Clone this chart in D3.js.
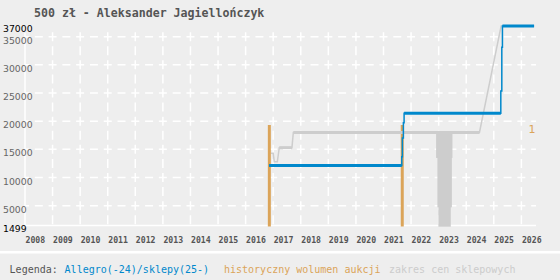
<!DOCTYPE html>
<html>
<head>
<meta charset="utf-8">
<script src="https://cdn.jsdelivr.net/npm/d3@7"></script>
<style>
  body { margin: 0; background: #eeeeee; }
  svg { display: block; }
</style>
</head>
<body>
<div id="container"></div>
<script>
//Width and height
let w = 560;
let h = 280;

// Chart data (time as decimal year)
let title = "500 zł - Aleksander Jagiellończyk";
let yearTicks = [2008, 2009, 2010, 2011, 2012, 2013, 2014, 2015, 2016, 2017,
                 2018, 2019, 2020, 2021, 2022, 2023, 2024, 2025, 2026];
let priceTicks = [37000, 35000, 30000, 25000, 20000, 15000, 10000, 5000, 1499];
let gridTicks = [35000, 30000, 25000, 20000, 15000, 10000, 5000];

// Allegro/sklepy price steps
let allegroDates  = [2016.85, 2021.663, 2021.685, 2021.721, 2021.747, 2025.254, 2025.29, 2025.313, 2026.46];
let allegroPrices = [12150,   13700,    17000,    19730,    21400,    25360,    33100,   36900,    36900];

// shop price range line
let shopDates  = [2016.92, 2017.0, 2017.04, 2017.15, 2017.22, 2017.68, 2017.73, 2024.48, 2025.27];
let shopPrices = [14300,   14300,  12800,   12800,   15300,   15300,   18000,   18000,   37000];

// shop price range band (start, end, low, high)
let bandStart = [2022.907, 2022.955, 2022.99];
let bandEnd   = [2023.50,  2023.48,  2023.44];
let bandLow   = [13700,    4940,     1499];
let bandHigh  = [18000,    13700,    4940];

// auction volume
let volumeDates  = [2016.86, 2021.68];
let volumeCounts = [1, 1];
let volumeMax = 1;

let blue = "#0088cc";
let orange = "#dba459";
let grey = "#cdcdcd";

//Scales
let x = d3.scaleLinear().domain([2008, 2026.53]).range([25, 536]);
let y = d3.scaleLinear().domain([1499, 37000]).range([225.4, 25.4]);
let vol = d3.scaleLinear().domain([0, volumeMax]).range([226.5, 125]);

//Create SVG
let svg = d3.select("#container")
      .append("svg")
      .attr("width", w)
      .attr("height", h)
      .style("background", "#eeeeee");

// Title
svg.append("text")
  .attr("x", 34)
  .attr("y", 17)
  .style("font-family", "DejaVu Sans Mono")
  .style("font-weight", "bold")
  .style("font-size", "11.6px")
  .style("fill", "#555")
  .text(title);

// Grid lines, dashes centred on crossings
let halfYear = (x(2009) - x(2008)) / 2;
let halfStep = (y(5000) - y(10000)) / 2;

svg.append("g").selectAll("line")
  .data(gridTicks)
  .enter()
  .append("line")
    .attr("x1", x(2008))
    .attr("x2", x.range()[1])
    .attr("y1", function(d) { return y(d); })
    .attr("y2", function(d) { return y(d); })
    .style("stroke", "#fff")
    .style("stroke-width", 1.5)
    .style("stroke-dasharray", "8," + (halfYear - 8))
    .style("stroke-dashoffset", 4);

svg.append("g").selectAll("line")
  .data(yearTicks.slice(1))
  .enter()
  .append("line")
    .attr("x1", function(d) { return x(d); })
    .attr("x2", function(d) { return x(d); })
    .attr("y1", y(35000) - 4.5)
    .attr("y2", 228)
    .style("stroke", "#fff")
    .style("stroke-width", 1.5)
    .style("stroke-dasharray", "9," + (halfStep - 9));

// Solid axis lines
svg.append("line")
  .attr("x1", x(2008)).attr("x2", x(2008))
  .attr("y1", y(35000) - 4).attr("y2", y(1499))
  .style("stroke", "#fff").style("stroke-width", 1.5);
svg.append("line")
  .attr("x1", x(2008)).attr("x2", x.range()[1])
  .attr("y1", y(1499)).attr("y2", y(1499))
  .style("stroke", "#fff").style("stroke-width", 1.5);

// Year axis
let xAxis = svg.append("g")
  .attr("transform", "translate(0,228)")
  .call(d3.axisBottom(x).tickValues(yearTicks).tickFormat(d3.format("d")).tickSize(0).tickPadding(9));
xAxis.select(".domain").remove();
xAxis.selectAll("text")
  .attr("text-anchor", "start")
  .style("font-family", "DejaVu Sans Mono")
  .style("font-weight", "bold")
  .style("font-size", "8.2px")
  .style("fill", "#555");

// Price axis
let yAxis = svg.append("g")
  .call(d3.axisLeft(y).tickValues(priceTicks).tickFormat(d3.format("d")).tickSize(0));
yAxis.select(".domain").remove();
yAxis.selectAll("text")
  .attr("x", 3)
  .attr("dy", 6.5)
  .attr("text-anchor", "start")
  .style("font-family", "DejaVu Sans")
  .style("font-size", "9.3px")
  .style("fill", function(d) { return (d == 37000 || d == 1499) ? "#000" : "#666"; });

// Shop price band
svg.append("g").selectAll("rect")
  .data(bandStart)
  .enter()
  .append("rect")
    .attr("x", function(d) { return x(d); })
    .attr("width", function(d, i) { return x(bandEnd[i]) - x(d); })
    .attr("y", function(d, i) { return y(bandHigh[i]); })
    .attr("height", function(d, i) { return y(bandLow[i]) - y(bandHigh[i]) + 1.3; })
    .style("fill", grey);

// Auction volume bars
svg.append("g").selectAll("rect")
  .data(volumeDates)
  .enter()
  .append("rect")
    .attr("x", function(d) { return x(d) - 1.5; })
    .attr("width", 3)
    .attr("y", function(d, i) { return vol(volumeCounts[i]); })
    .attr("height", function(d, i) { return vol(0) - vol(volumeCounts[i]); })
    .style("fill", orange);

svg.append("text")
  .attr("x", 532)
  .attr("y", vol(volumeMax) + 8)
  .attr("text-anchor", "middle")
  .style("font-family", "DejaVu Sans")
  .style("font-size", "11px")
  .style("fill", orange)
  .text(volumeMax);

// Draws a thin series path plus thick strokes on its long flat stretches
function drawSeries(dates, prices, colour, curve) {
  let pts = dates.map(function(d, i) { return [d, prices[i]]; });
  let line = d3.line()
    .x(function(d) { return x(d[0]); })
    .y(function(d) { return y(d[1]); })
    .curve(curve);
  svg.append("path")
    .datum(pts)
    .attr("d", line)
    .style("fill", "none")
    .style("stroke", colour)
    .style("stroke-width", 1.5);

  let flats = [];
  for (let i = 0; i < pts.length - 1; i++) {
    let endValue = curve == d3.curveStepAfter ? pts[i][1] : pts[i + 1][1];
    if (pts[i + 1][0] - pts[i][0] > 0.3 && endValue == pts[i][1]) {
      flats.push([pts[i], [pts[i + 1][0], pts[i][1]]]);
    }
  }
  svg.append("g").selectAll("line")
    .data(flats)
    .enter()
    .append("line")
      .attr("x1", function(d) { return x(d[0][0]); })
      .attr("x2", function(d) { return x(d[1][0]); })
      .attr("y1", function(d) { return y(d[0][1]); })
      .attr("y2", function(d) { return y(d[1][1]); })
      .style("stroke", colour)
      .style("stroke-width", 3);
}

drawSeries(shopDates, shopPrices, grey, d3.curveLinear);
drawSeries(allegroDates, allegroPrices, blue, d3.curveStepAfter);

// Legend
svg.append("rect")
  .attr("x", 0).attr("y", 251)
  .attr("width", w).attr("height", 2.5)
  .style("fill", "#fff");

let legend = svg.append("text")
  .attr("y", 273)
  .style("font-family", "DejaVu Sans Mono")
  .style("font-size", "10px");
legend.append("tspan").attr("x", 9.6).style("fill", "#555").text("Legenda:");
legend.append("tspan").attr("x", 64.6).style("fill", blue).text("Allegro(-24)/sklepy(25-)");
legend.append("tspan").attr("x", 224).style("fill", orange).text("historyczny wolumen aukcji");
legend.append("tspan").attr("x", 389).style("fill", "#cccccc").text("zakres cen sklepowych");
</script>
</body>
</html>
